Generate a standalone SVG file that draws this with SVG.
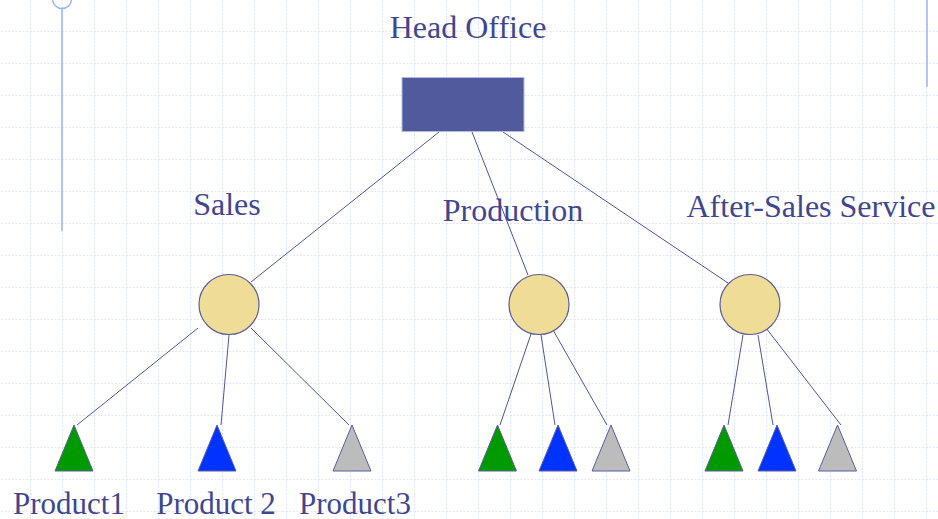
<svg xmlns="http://www.w3.org/2000/svg" width="938" height="519" viewBox="0 0 938 519">
<defs>
<pattern id="grid" x="30" y="31" width="32" height="32" patternUnits="userSpaceOnUse">
<path d="M0.5 0 V32 M0 0.5 H32" fill="none" stroke="#dfe5fa" stroke-width="1.2" stroke-dasharray="2 1.5"/>
</pattern>
</defs>
<style>
.lbl{font-family:"Liberation Serif","Times New Roman",serif;font-size:32px;fill:#3f468f;text-anchor:middle}
.sm{font-size:31px}
.con{stroke:#4f5596;stroke-width:1;fill:none}
.circ{fill:#efdc96;stroke:#5a5f9a;stroke-width:1.2}
.tri{stroke:#5a5f9a;stroke-width:1}
.g{fill:#009900}.b{fill:#0033ff}.s{fill:#bcbcbc}
.deco{stroke:#99b3f5;stroke-width:1.5;fill:none}
</style>
<rect width="938" height="519" fill="#ffffff"/>
<rect width="938" height="519" fill="url(#grid)"/>
<g id="decoration">
<line class="deco" x1="62" y1="8" x2="62" y2="231"/>
<circle class="deco" cx="62" cy="-1" r="9.5"/>
<line class="deco" x1="927" y1="0" x2="927" y2="87"/>
</g>
<g id="connectors">
<line class="con" x1="439" y1="132" x2="251" y2="282"/>
<line class="con" x1="472" y1="132" x2="528" y2="275"/>
<line class="con" x1="503" y1="132" x2="728" y2="283"/>
<line class="con" x1="198" y1="328" x2="77" y2="425"/>
<line class="con" x1="229" y1="335" x2="221" y2="425"/>
<line class="con" x1="251" y1="328" x2="349" y2="425"/>
<line class="con" x1="531" y1="334" x2="500" y2="425"/>
<line class="con" x1="541" y1="335" x2="555" y2="425"/>
<line class="con" x1="553" y1="330" x2="607" y2="425"/>
<line class="con" x1="743" y1="335" x2="728" y2="425"/>
<line class="con" x1="758" y1="335" x2="773" y2="425"/>
<line class="con" x1="766" y1="328" x2="841" y2="425"/>
</g>
<g id="head-office">
<rect x="402" y="77.5" width="122" height="54" fill="#505a9c" stroke="#b4b9e0" stroke-width="1"/>
<text class="lbl" x="468" y="38">Head Office</text>
</g>
<g id="sales">
<circle class="circ" cx="229" cy="304.5" r="30"/>
<text class="lbl" x="227" y="214.5">Sales</text>
</g>
<g id="production">
<circle class="circ" cx="539" cy="304.5" r="30"/>
<text class="lbl" x="513" y="220.5">Production</text>
</g>
<g id="after-sales">
<circle class="circ" cx="750" cy="304.5" r="30"/>
<text class="lbl" x="811" y="216.5">After-Sales Service</text>
</g>
<g id="product1">
<polygon class="tri g" points="74,425 55,471 93,471"/>
<text class="lbl sm" x="69" y="513.5">Product1</text>
</g>
<g id="product2">
<polygon class="tri b" points="217,425 198,471 236,471"/>
<text class="lbl sm" x="216" y="513.5">Product 2</text>
</g>
<g id="product3">
<polygon class="tri s" points="352,425 333,471 371,471"/>
<text class="lbl sm" x="355" y="513.5">Product3</text>
</g>
<g id="production-p1"><polygon class="tri g" points="497.5,425 478.5,471 516.5,471"/></g>
<g id="production-p2"><polygon class="tri b" points="558,425 539,471 577,471"/></g>
<g id="production-p3"><polygon class="tri s" points="611,425 592,471 630,471"/></g>
<g id="after-sales-p1"><polygon class="tri g" points="724,425 705,471 743,471"/></g>
<g id="after-sales-p2"><polygon class="tri b" points="777,425 758,471 796,471"/></g>
<g id="after-sales-p3"><polygon class="tri s" points="837.5,425 818.5,471 856.5,471"/></g>
</svg>
